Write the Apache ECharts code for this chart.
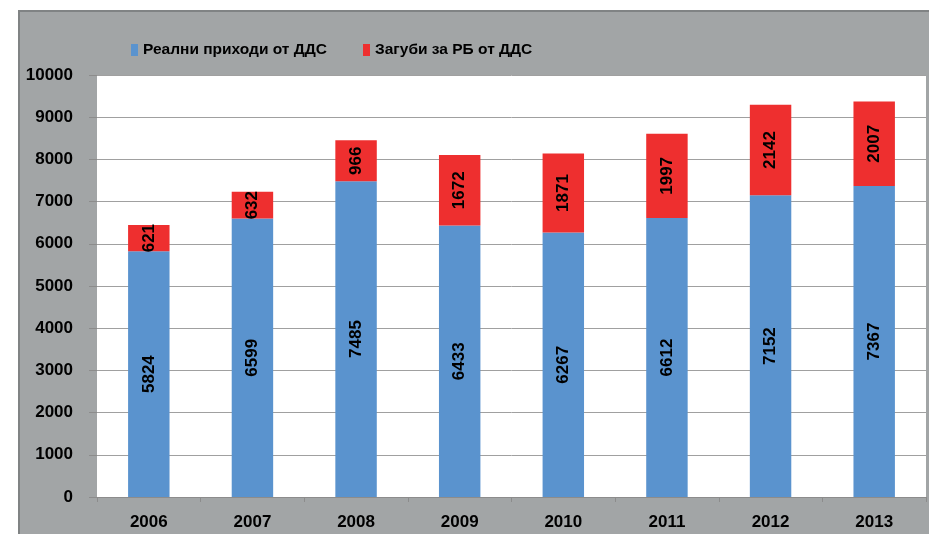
<!DOCTYPE html>
<html><head><meta charset="utf-8">
<script src="https://cdn.jsdelivr.net/npm/echarts@6/dist/echarts.min.js"></script>
<style>html,body{margin:0;padding:0;background:#fff}#c{width:929px;height:534px}</style>
</head><body><div id="c"></div>
<script>
const years = ['2006','2007','2008','2009','2010','2011','2012','2013'];
const realRevenue = [5824, 6599, 7485, 6433, 6267, 6612, 7152, 7367];
const losses = [621, 632, 966, 1672, 1871, 1997, 2142, 2007];
const seriesNames = ['Реални приходи от ДДС', 'Загуби за РБ от ДДС'];
const FONT = '"Liberation Sans Narrow", "Arial Narrow", "Liberation Sans", Arial, sans-serif';
const chart = echarts.init(document.getElementById('c'));
const lbl = {show:true, position:'inside', rotate:90, color:'#000', fontWeight:'bold', fontSize:17, fontFamily:FONT};
chart.setOption({
  backgroundColor:'#fff',
  animation:false,
  graphic:[{type:'rect', z:-10, shape:{x:19, y:11, width:912, height:526}, style:{fill:'#a2a5a6', stroke:'#808384', lineWidth:2}}],
  legend:{top:37, left:126, itemWidth:7, itemHeight:12, itemGap:36, icon:'rect',
    textStyle:{fontFamily:FONT, fontWeight:'bold', fontSize:15.5, color:'#000'}, data:seriesNames},
  grid:{left:97, top:75, right:3, bottom:37, show:true, backgroundColor:'#fff', borderWidth:0},
  xAxis:{type:'category', data:years,
    axisLine:{lineStyle:{color:'#8c8c8c'}},
    axisTick:{show:true, length:5, lineStyle:{color:'#8c8c8c'}},
    axisLabel:{color:'#000', fontWeight:'bold', fontSize:17, fontFamily:FONT, margin:17}},
  yAxis:{type:'value', min:0, max:10000, interval:1000,
    axisLine:{show:false},
    axisTick:{show:true, length:8, lineStyle:{color:'#8c8c8c'}},
    splitLine:{lineStyle:{color:'#a0a0a0'}},
    axisLabel:{color:'#000', fontWeight:'bold', fontSize:17, fontFamily:FONT, margin:24,
      formatter: v => String(v)}},
  series:[
    {name:seriesNames[0], type:'bar', stack:'a', data:realRevenue, barWidth:'40%',
      itemStyle:{color:'#5a93ce'}, label:lbl},
    {name:seriesNames[1], type:'bar', stack:'a', data:losses, barWidth:'40%',
      itemStyle:{color:'#ee2f2f'}, label:lbl}
  ]
});
</script></body></html>
